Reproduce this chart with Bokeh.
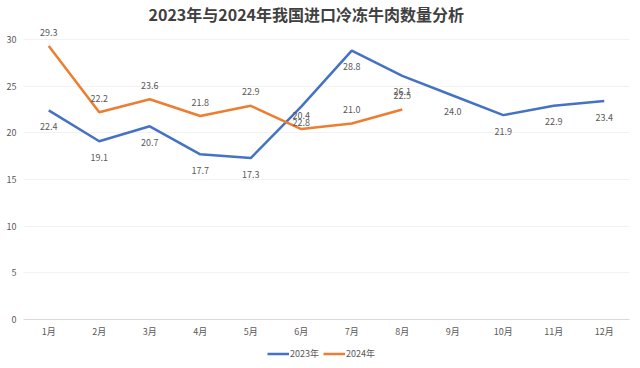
from bokeh.plotting import figure
from bokeh.layouts import column
from bokeh.models import ColumnDataSource, Legend, LegendItem, LabelSet, Label, FixedTicker, Range1d
from bokeh.core.properties import value
from bokeh.embed import file_html
from bokeh.resources import INLINE

months = ["1月", "2月", "3月", "4月", "5月", "6月", "7月", "8月", "9月", "10月", "11月", "12月"]
v2023 = [22.4, 19.1, 20.7, 17.7, 17.3, 22.8, 28.8, 26.1, 24.0, 21.9, 22.9, 23.4]
months_2024 = months[:8]
v2024 = [29.3, 22.2, 23.6, 21.8, 22.9, 20.4, 21.0, 22.5]
y_ticks = [0, 5, 10, 15, 20, 25, 30]
series_names = ["2023年", "2024年"]
title_text = "2023年与2024年我国进口冷冻牛肉数量分析"

FONT = "Noto Sans CJK SC"
BLUE = "#4472C4"
ORANGE = "#ED7D31"
GRAY = "#595959"

# frame reaches the top so the title and top labels are not clipped
p = figure(x_range=months, y_range=Range1d(0, 34.18),
           frame_width=606, frame_height=319,
           output_backend="svg", toolbar_location=None,
           min_border_left=23, min_border_right=3, min_border_top=0, min_border_bottom=0)
p.outline_line_color = None
p.background_fill_color = "white"
p.border_fill_color = "white"

p.yaxis.ticker = FixedTicker(ticks=y_ticks)
p.yaxis.axis_line_color = None
p.yaxis.major_tick_line_color = None
p.yaxis.minor_tick_line_color = None
p.yaxis.major_tick_out = 0
p.yaxis.major_tick_in = 0
p.yaxis.major_label_text_font = FONT
p.yaxis.major_label_text_font_size = "9px"
p.yaxis.major_label_text_color = GRAY
p.yaxis.major_label_standoff = 7

p.xaxis.axis_line_color = "#D9D9D9"
p.xaxis.major_tick_line_color = None
p.xaxis.minor_tick_line_color = None
p.xaxis.major_tick_out = 0
p.xaxis.major_tick_in = 0
p.xaxis.major_label_text_font = FONT
p.xaxis.major_label_text_font_size = "9px"
p.xaxis.major_label_text_color = GRAY
p.xaxis.major_label_standoff = 5

p.xgrid.grid_line_color = None
p.ygrid.grid_line_color = "#F2F2F2"

s23 = ColumnDataSource(dict(x=months, y=v2023, t=[f"{v:.1f}" for v in v2023]))
s24 = ColumnDataSource(dict(x=months_2024, y=v2024, t=[f"{v:.1f}" for v in v2024]))

r23 = p.line("x", "y", source=s23, line_color=BLUE, line_width=2.5)
r24 = p.line("x", "y", source=s24, line_color=ORANGE, line_width=2.5)

l23 = LabelSet(x="x", y="y", text="t", source=s23, y_offset=-16, text_align="center",
               text_baseline="middle", text_font=value(FONT), text_font_size="9px", text_color=GRAY)
l24 = LabelSet(x="x", y="y", text="t", source=s24, y_offset=14, text_align="center",
               text_baseline="middle", text_font=value(FONT), text_font_size="9px", text_color=GRAY)
p.add_layout(l23)
p.add_layout(l24)

title = Label(x=5.6, y=32.7, text=title_text, text_align="center", text_baseline="middle",
              text_font=FONT, text_font_size="16px", text_font_style="bold", text_color="#404040")
p.add_layout(title)

# legend strip below the chart (same series, drawn outside the strip's visible range)
q = figure(x_range=months, y_range=Range1d(100, 101), width=622, height=26,
           output_backend="svg", toolbar_location=None,
           min_border_left=0, min_border_right=0, min_border_top=0, min_border_bottom=0)
q.axis.visible = False
q.grid.grid_line_color = None
q.outline_line_color = None
q.background_fill_color = "white"
q.border_fill_color = "white"
q1 = q.line("x", "y", source=s23, line_color=BLUE, line_width=2.5)
q2 = q.line("x", "y", source=s24, line_color=ORANGE, line_width=2.5)
legend = Legend(items=[LegendItem(label=series_names[0], renderers=[q1]),
                       LegendItem(label=series_names[1], renderers=[q2])],
                orientation="horizontal", location="center",
                label_text_font=FONT, label_text_font_size="9px", label_text_color=GRAY,
                glyph_width=22, glyph_height=8, label_height=10, label_standoff=1, spacing=4,
                padding=0, margin=0, border_line_color=None, background_fill_alpha=0)
q.add_layout(legend)

layout = column(p, q, spacing=0)
open("out.html", "w").write(file_html(layout, INLINE))
